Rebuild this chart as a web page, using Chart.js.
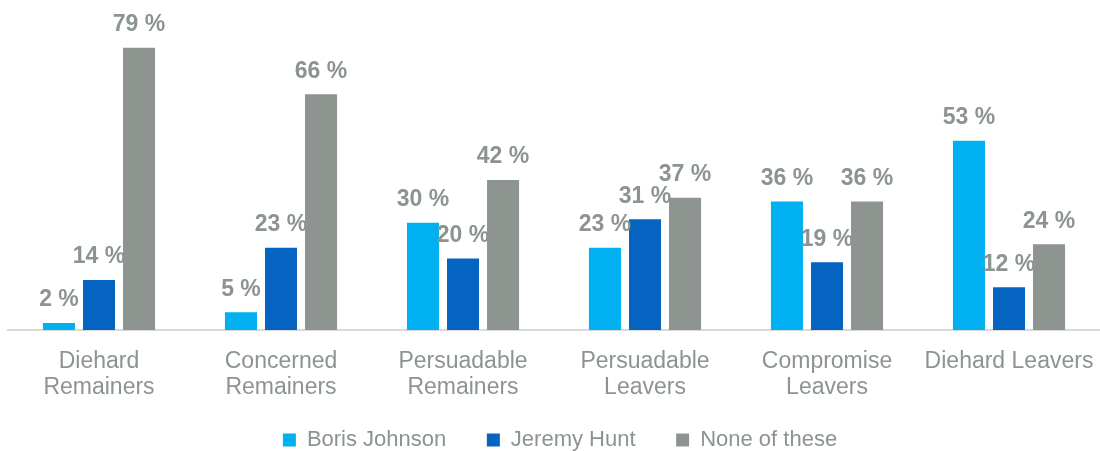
<!DOCTYPE html>
<html>
<head>
<meta charset="utf-8">
<script src="https://cdn.jsdelivr.net/npm/chart.js@4"></script>
<style>
  html, body { margin: 0; padding: 0; background: #fff; }
  #wrap { width: 1100px; height: 451px; }
</style>
</head>
<body>
<div id="wrap"><canvas id="chart"></canvas></div>
<script>
// Categories and series (percent)
const categories = [
  ['Diehard', 'Remainers'],
  ['Concerned', 'Remainers'],
  ['Persuadable', 'Remainers'],
  ['Persuadable', 'Leavers'],
  ['Compromise', 'Leavers'],
  'Diehard Leavers'
];
const borisJohnson = [2, 5, 30, 23, 36, 53];
const jeremyHunt = [14, 23, 20, 31, 19, 12];
const noneOfThese = [79, 66, 42, 37, 36, 24];

const textGrey = '#8C9490';
const fontFamily = 'Arial, "Liberation Sans", Helvetica, sans-serif';

// Draw value labels above each bar
const valueLabels = {
  id: 'valueLabels',
  afterDatasetsDraw(chart) {
    const ctx = chart.ctx;
    ctx.save();
    ctx.font = 'bold 23px ' + fontFamily;
    ctx.fillStyle = textGrey;
    ctx.textAlign = 'center';
    ctx.textBaseline = 'middle';
    chart.data.datasets.forEach((ds, i) => {
      chart.getDatasetMeta(i).data.forEach((bar, j) => {
        ctx.fillText(ds.data[j] + ' %', bar.x, bar.y - 23);
      });
    });
    ctx.restore();
  }
};

// Push the legend a little lower / right of where Chart.js puts it
const legendNudge = {
  id: 'legendNudge',
  afterLayout(chart) {
    chart.legend.top += 7;
    chart.legend.bottom += 7;
    chart.legend.left += 6;
    chart.legend.right += 6;
  }
};

new Chart(document.getElementById('chart').getContext('2d'), {
  type: 'bar',
  data: {
    labels: categories,
    datasets: [
      { label: 'Boris Johnson', data: borisJohnson, backgroundColor: '#00B0F0' },
      { label: 'Jeremy Hunt', data: jeremyHunt, backgroundColor: '#0563C1' },
      { label: 'None of these', data: noneOfThese, backgroundColor: '#8E9590' }
    ]
  },
  options: {
    responsive: true,
    maintainAspectRatio: false,
    animation: false,
    layout: { padding: { left: 8, right: 0, top: 0, bottom: -3 } },
    datasets: {
      bar: { categoryPercentage: 0.66, barPercentage: 0.8 }
    },
    scales: {
      x: {
        grid: { display: false },
        border: { display: true, color: '#D9D9D9', width: 2 },
        afterFit(scale) {
          scale.paddingRight = 0;
        },
        ticks: {
          color: textGrey,
          padding: 11,
          maxRotation: 0,
          autoSkip: false,
          font: { family: fontFamily, size: 23, lineHeight: 1.13 }
        }
      },
      y: {
        display: false,
        min: 0,
        max: 92.4
      }
    },
    plugins: {
      legend: {
        position: 'bottom',
        labels: {
          color: textGrey,
          boxWidth: 13,
          boxHeight: 13,
          padding: 10,
          font: { family: fontFamily, size: 22 },
          generateLabels(chart) {
            const items = Chart.defaults.plugins.legend.labels.generateLabels(chart);
            items.forEach((it, i) => {
              if (i < items.length - 1) it.text = it.text + '     ';
              it.lineWidth = 0;
            });
            return items;
          }
        }
      },
      tooltip: { enabled: false }
    }
  },
  plugins: [valueLabels, legendNudge]
});
</script>
</body>
</html>
